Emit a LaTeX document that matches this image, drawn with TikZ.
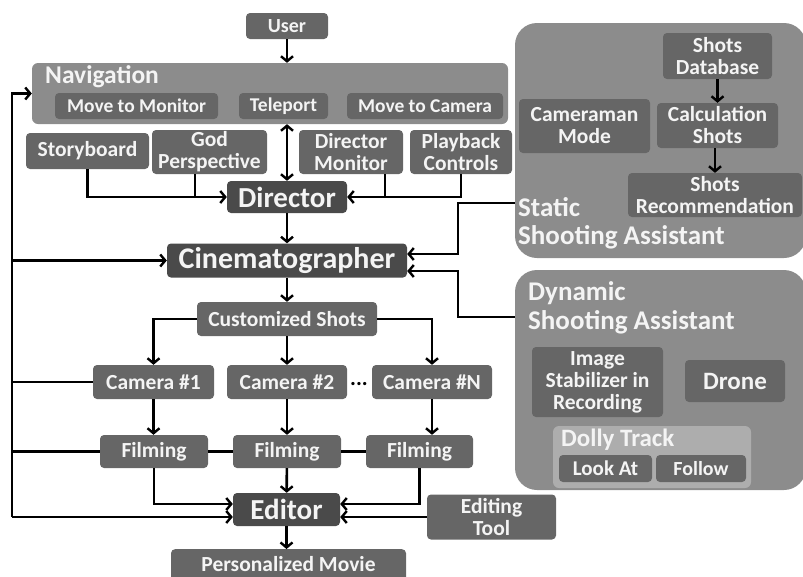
\documentclass[tikz,border=0pt]{standalone}
\usepackage{fontspec}
\setmainfont{Carlito}
\usetikzlibrary{arrows.meta,calc}

\definecolor{boxgray}{HTML}{666666}
\definecolor{darkgray}{HTML}{4A4A4A}
\definecolor{panelgray}{HTML}{8C8C8C}
\definecolor{dollygray}{HTML}{ADADAD}
\definecolor{txt}{HTML}{F4F4F4}

\tikzset{
  wh/.style 2 args={minimum width=#1pt, minimum height=#2pt},
  fs/.style={font=\fontsize{#1}{22}\selectfont\bfseries},
  box/.style={fill=boxgray, rounded corners=4pt, text=txt, inner sep=0pt,
              align=center, fs=21.5},
  bigbox/.style={box, fill=darkgray, fs=29},
  panel/.style={fill=panelgray, rounded corners=#1},
  title/.style={text=txt, anchor=west, inner sep=0pt, align=left, fs=27},
  conn/.style={line width=2.6pt, draw=black},
  arr/.style={conn, -{Straight Barb[length=5pt,width=12pt,line width=2.4pt]}},
  darr/.style={conn, {Straight Barb[length=5pt,width=12pt,line width=2.4pt]}-{Straight Barb[length=5pt,width=12pt,line width=2.4pt]}},
}

\begin{document}
\begin{tikzpicture}[x=1pt,y=-1pt]
\useasboundingbox (0,0) rectangle (803,576);
\clip (0,0) rectangle (803,576);

% ---------- navigation group ----------
\node[box, wh={82}{26}, fs=20] (user) at (287,26) {User};
\node[panel=6pt, wh={476}{61}, inner sep=0pt] (nav) at (270,93.5) {};
\node[title, fs=25.5] (navtitle) at (45,77) {Navigation};
\node[box, wh={163}{26}, fs=19.5] (movemon) at (136.5,106) {Move to Monitor};
\node[box, wh={89}{26}, fs=19.5] (teleport) at (283.5,106) {Teleport};
\node[box, wh={156}{26}, fs=19.5] (movecam) at (425,106) {Move to Camera};

% ---------- director inputs ----------
\node[box, wh={123}{36}] (storyboard) at (87.5,151) {Storyboard};
\node[box, wh={115}{44}] (godpersp) at (209.5,152) {God\\Perspective};
\node[box, wh={104}{44}] (dirmon) at (351,152) {Director\\Monitor};
\node[box, wh={102}{44}] (playback) at (461,152) {Playback\\Controls};

% ---------- main chain ----------
\node[bigbox, wh={120}{32}] (director) at (287,197) {Director};
\node[bigbox, wh={240}{34}, fs=30] (cinema) at (287,260.5) {Cinematographer};
\node[box, wh={180}{34}] (custom) at (287,319) {Customized Shots};
\node[box, wh={121}{34}] (cam1) at (153.5,382) {Camera \#1};
\node[box, wh={120}{34}] (cam2) at (287,382) {Camera \#2};
\node[box, wh={120}{34}] (camN) at (432,382) {Camera \#N};
\node[inner sep=0pt, fs=22] (dots) at (359,384) {...};
\node[box, wh={108}{33}] (film1) at (154,451.5) {Filming};
\node[box, wh={108}{33}] (film2) at (287,451.5) {Filming};
\node[box, wh={107}{33}] (film3) at (419.5,451.5) {Filming};
\node[bigbox, wh={107}{33}] (editor) at (286.5,509.5) {Editor};
\node[box, wh={129}{45}] (edittool) at (491.5,517) {Editing\\Tool};
\node[box, wh={235}{40}, anchor=north] (movie) at (288.5,549) {};
\node[text=txt, fs=21.5, inner sep=0pt] (movietext) at (288.5,564) {Personalized Movie};

% ---------- static shooting assistant ----------
\node[panel=22pt, wh={291}{235}, inner sep=0pt] (static) at (660.5,140.5) {};
\node[box, wh={109}{46}] (shotsdb) at (717.5,56) {Shots\\Database};
\node[box, wh={131}{54}] (cammode) at (584.5,126) {Cameraman\\Mode};
\node[box, wh={121}{45}] (calcshots) at (717.5,125.5) {Calculation\\Shots};
\node[box, wh={174}{44}] (shotsrec) at (715,195) {Shots\\Recommendation};
\node[title] (statictitle) at (518,207) {Static};
\node[title] (statictitle2) at (518,237) {Shooting Assistant};

% ---------- dynamic shooting assistant ----------
\node[panel=22pt, wh={291}{220}, inner sep=0pt] (dynamic) at (660.5,380) {};
\node[title] (dyntitle) at (528,293) {Dynamic};
\node[title] (dyntitle2) at (528,322) {Shooting Assistant};
\node[box, wh={131}{70}] (imgstab) at (597.5,382) {Image\\Stabilizer in\\Recording};
\node[box, wh={100}{42}, fs=25] (drone) at (735,381) {Drone};
\node[fill=dollygray, rounded corners=6pt, wh={198}{62}, inner sep=0pt] (dolly) at (652,457) {};
\node[title, fs=25] (dollytitle) at (561,440) {Dolly Track};
\node[box, wh={93}{27}, fs=21] (lookat) at (605.5,468.5) {Look At};
\node[box, wh={90}{27}, fs=20] (follow) at (701,468.5) {Follow};

% ---------- connectors ----------
\draw[arr] (user.south) -- (user.south |- nav.north);
\draw[darr] (nav.south -| director.north) -- (director.north);
\draw[arr] (storyboard.south) |- (director.west);
\draw[conn] ([xshift=-14.5pt]godpersp.south) -- ([xshift=-14.5pt]godpersp.south |- director.west);
\draw[arr] (playback.south) |- (director.east);
\draw[conn] ([xshift=34pt]dirmon.south) -- ([xshift=34pt]dirmon.south |- director.east);
\draw[arr] (director) -- (cinema);

\draw[arr] ([yshift=-62.5pt]static.west) -- ++(-57,0) |- ([yshift=6.5pt]cinema.east);
\draw[arr] ([yshift=63pt]dynamic.west) -- ++(-57,0) |- ([yshift=-10.5pt]cinema.east);

\draw[arr] (cinema) -- (custom);
\draw[arr] (custom.west) -| (cam1.north);
\draw[arr] (custom) -- (cam2);
\draw[arr] (custom.east) -| (camN.north);

\draw[arr] (cam1.south) -- (cam1.south |- film1.north);
\draw[arr] (cam2.south) -- (cam2.south |- film2.north);
\draw[arr] (camN.south) -- (camN.south |- film3.north);
\draw[conn] (film1.east) -- (film2.west);
\draw[conn] (film2.east) -- (film3.west);

\draw[arr] (film1.south) |- ([yshift=5.5pt]editor.west);
\draw[arr] (film2) -- (editor);
\draw[arr] (film3.south) |- ([yshift=5.5pt]editor.east);
\draw[arr] (edittool.west) -- (edittool.west -| editor.east);
\draw[arr] (editor.south) -- (editor.south |- movie.north);

\draw[arr] (shotsdb) -- (calcshots);
\draw[arr] ([xshift=-2.5pt]calcshots.south) -- ([xshift=-2.5pt]calcshots.south |- shotsrec.north);

% ---------- feedback loop on the left ----------
\coordinate (fbtop) at (12,93.5);
\coordinate (fbbot) at (12,517);
\draw[arr] (fbbot) -- (fbtop) -- (nav.west);
\draw[arr] (cinema.west -| fbtop) -- (cinema.west);
\draw[conn] (cam1.west) -- (cam1.west -| fbtop);
\draw[conn] (film1.west) -- (film1.west -| fbtop);
\draw[arr] (fbbot) -- ([yshift=-7.5pt]editor.west);
\end{tikzpicture}
\end{document}
